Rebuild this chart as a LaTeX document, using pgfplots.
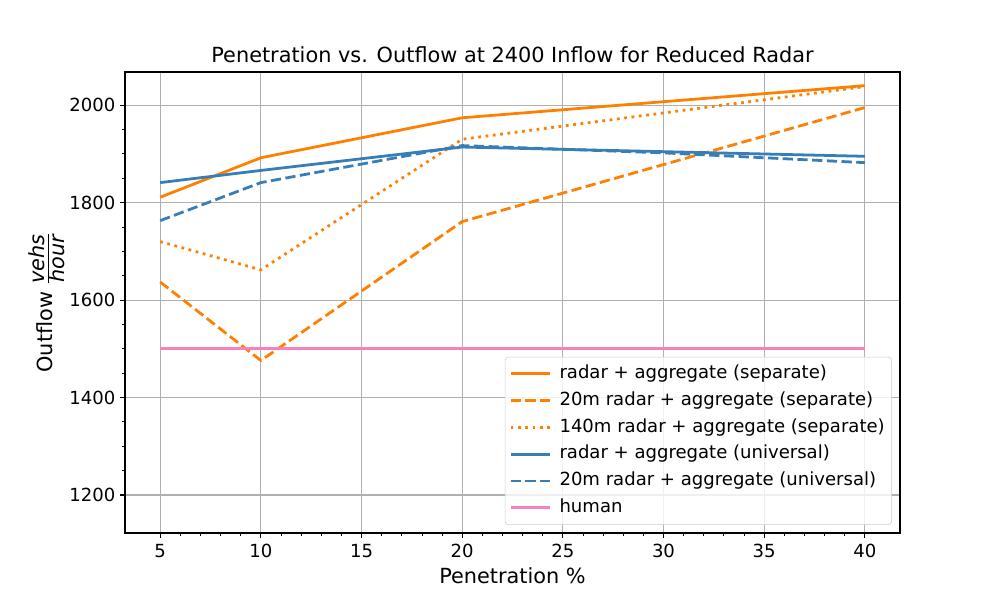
\documentclass[border=0pt]{standalone}
\usepackage{fontspec}
\setmainfont{DejaVu Sans}
\usepackage{pgfplots}
\pgfplotsset{compat=1.18}
\definecolor{sorange}{HTML}{FF7F00}
\definecolor{sblue}{HTML}{377EB8}
\definecolor{spink}{HTML}{F781BF}
\definecolor{gridc}{HTML}{B0B0B0}
\begin{document}
\begin{tikzpicture}[x=1bp,y=1bp]
\path[use as bounding box] (0,0) rectangle (720,432);
\begin{axis}[
  at={(90bp,48.24bp)}, anchor=south west,
  scale only axis, width=558bp, height=331.92bp,
  xmin=3.25, xmax=41.75, ymin=1122, ymax=2068,
  xtick={5,10,...,40}, ytick={1200,1400,...,2000},
  minor x tick num=4, minor y tick num=3,
  tick align=outside, tick pos=left,
  major tick length=3.5bp, minor tick length=2bp,
  every tick/.style={black, line width=0.8bp},
  minor tick style={line width=0.6bp},
  axis line style={line width=0.8bp},
  grid=major, major grid style={gridc, line width=0.8bp},
  /pgf/number format/assume math mode=true,
  /pgf/number format/1000 sep={},
  tick label style={font=\fontsize{13bp}{15bp}\selectfont},
  xticklabel style={yshift=-1bp},
  title={Penetration vs. Outflow at 2400 Inflow for Reduced Radar},
  title style={font=\fontsize{15bp}{18bp}\selectfont, yshift=-3bp},
  xlabel={Penetration \%},
  ylabel={Outflow $\frac{\textit{vehs}}{\textit{hour}}$},
  label style={font=\fontsize{15bp}{18bp}\selectfont},
  ylabel style={yshift=-3.6bp},
  legend cell align=left,
  legend style={at={(1,0)}, anchor=south east, xshift=-5.8bp, yshift=5.8bp,
    draw=black!20, rounded corners=2.5bp, fill=white, fill opacity=0.8, text opacity=1,
    inner xsep=3bp, inner ysep=5.8bp,
    font=\fontsize{13bp}{15bp}\selectfont,
    nodes={inner xsep=2bp, inner ysep=0bp, text height=9.6bp, text depth=3bp},
    row sep=6.7bp},
  legend image code/.code={\draw[#1] (0bp,0bp) -- (28bp,0bp); \path (32.2bp,0bp);},
  every axis plot/.append style={line width=2bp},
]
\addplot[sorange, line width=2bp] coordinates {(5,1811) (10,1892) (20,1974) (40,2040)};
\addlegendentry{radar + aggregate (separate)}
\addplot[sorange, line width=2bp, dash pattern=on 7.4bp off 3.2bp] coordinates {(5,1637) (10,1476) (20,1761) (40,1995)};
\addlegendentry{20m radar + aggregate (separate)}
\addplot[sorange, line width=2bp, dash pattern=on 2bp off 3.3bp] coordinates {(5,1720) (10,1662) (20,1930) (40,2038)};
\addlegendentry{140m radar + aggregate (separate)}
\addplot[sblue, line width=2bp] coordinates {(5,1841) (10,1866) (20,1914) (40,1895)};
\addlegendentry{radar + aggregate (universal)}
\addplot[sblue, line width=2bp, dash pattern=on 7.4bp off 3.2bp] coordinates {(5,1763) (10,1841) (20,1917) (30,1902) (40,1882)};
\addlegendentry{20m radar + aggregate (universal)}
\addplot[spink, line width=2bp] coordinates {(5,1500) (40,1500)};
\addlegendentry{human}
\end{axis}
\end{tikzpicture}
\end{document}
